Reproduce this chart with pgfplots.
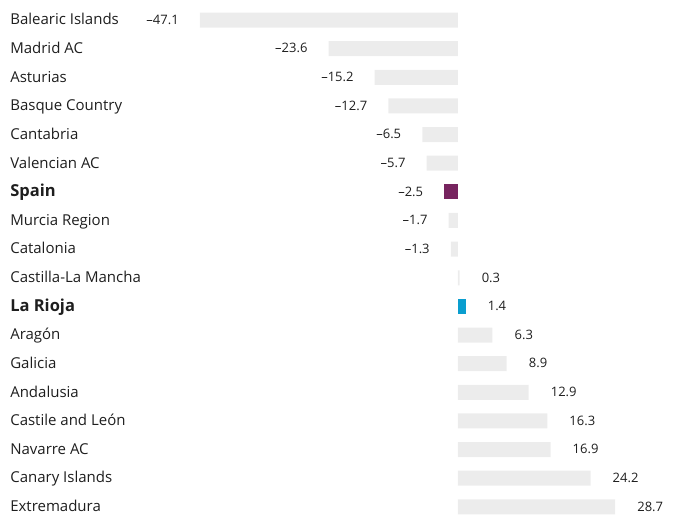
\documentclass[border=0pt]{standalone}
\usepackage{fontspec}
\setmainfont{Open Sans}
\usepackage{pgfplots}
\pgfplotsset{compat=1.18}
\definecolor{bargrey}{HTML}{ECECEC}
\definecolor{spainpurple}{HTML}{77245F}
\definecolor{riojablue}{HTML}{0A9ECF}
\definecolor{txt}{HTML}{1E1E1E}
\newcommand{\hl}[1]{{\fontsize{16.5}{18}\selectfont\bfseries #1}}

\begin{document}
\begin{tikzpicture}
\begin{axis}[
    xbar,
    scale only axis,
    width=678pt, height=513pt,
    xmin=-83.58, xmax=40.15,
    ymin=-0.70, ymax=17.21,
    y dir=reverse,
    bar width=15pt,
    bar shift=0pt,
    clip=false,
    axis line style={draw=none},
    major tick length=0pt,
    xtick=\empty,
    ytick={0,...,17},
    yticklabels={Balearic Islands, Madrid AC, Asturias, Basque Country, Cantabria,
        Valencian AC, \hl{Spain}, Murcia Region, Catalonia,
        Castilla-La Mancha, \hl{La Rioja}, Aragón, Galicia,
        Andalusia, Castile and León, Navarre AC, Canary Islands, Extremadura},
    yticklabel style={anchor=base west, inner sep=0pt, xshift=10pt, yshift=-4.8pt,
        font=\fontsize{15}{17}\selectfont, text=txt},
    point meta=explicit symbolic,
    nodes near coords,
    every node near coord/.append style={font=\fontsize{13}{15}\selectfont, text=txt, inner sep=0pt},
]
% negative bars
\addplot[draw=none, fill=bargrey,
    nodes near coords style={anchor=base east, xshift=-21pt, yshift=-4.3pt}]
    coordinates {
    (-47.1,0) [–47.1]
    (-23.6,1) [–23.6]
    (-15.2,2) [–15.2]
    (-12.7,3) [–12.7]
    (-6.5,4) [–6.5]
    (-5.7,5) [–5.7]
    (-1.7,7) [–1.7]
    (-1.3,8) [–1.3]
};
\addplot[draw=none, fill=spainpurple,
    nodes near coords style={anchor=base east, xshift=-21pt, yshift=-4.3pt}]
    coordinates {(-2.5,6) [–2.5]};
% positive bars
\addplot[draw=none, fill=bargrey,
    nodes near coords style={anchor=base west, xshift=22pt, yshift=-4.3pt}]
    coordinates {
    (0.3,9) [0.3]
    (6.3,11) [6.3]
    (8.9,12) [8.9]
    (12.9,13) [12.9]
    (16.3,14) [16.3]
    (16.9,15) [16.9]
    (24.2,16) [24.2]
    (28.7,17) [28.7]
};
\addplot[draw=none, fill=riojablue,
    nodes near coords style={anchor=base west, xshift=22pt, yshift=-4.3pt}]
    coordinates {(1.4,10) [1.4]};
\end{axis}
\end{tikzpicture}
\end{document}
